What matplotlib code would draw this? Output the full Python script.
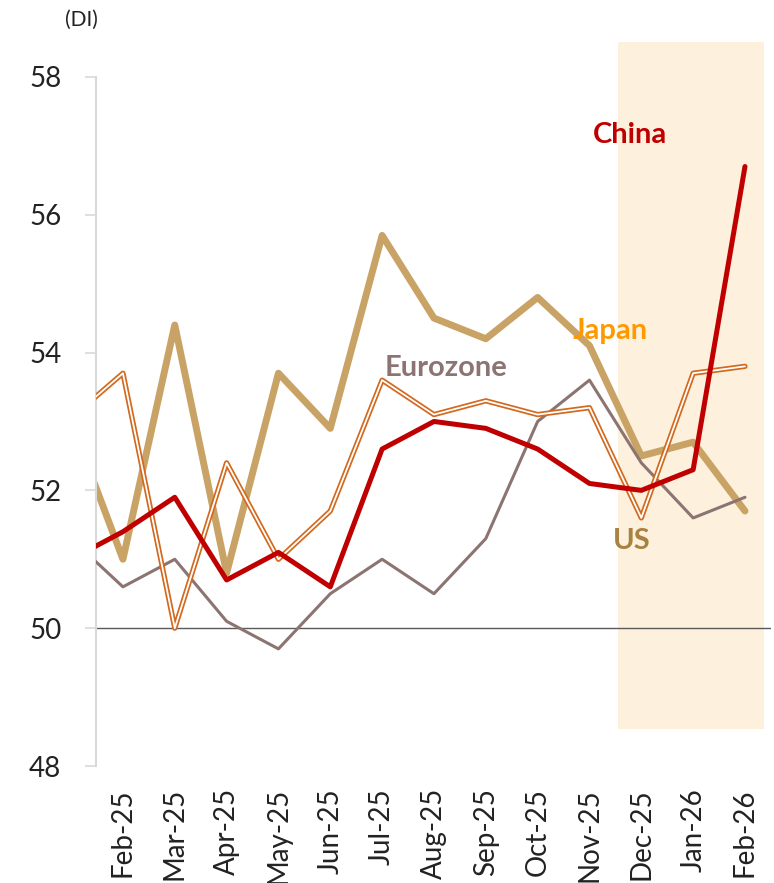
import numpy as np
import matplotlib.pyplot as plt

# =========================
# DATA  (first value = Jan-25, clipped at the left edge)
# =========================

months = ["Jan-25", "Feb-25", "Mar-25", "Apr-25", "May-25", "Jun-25", "Jul-25",
          "Aug-25", "Sep-25", "Oct-25", "Nov-25", "Dec-25", "Jan-26", "Feb-26"]

us = [53.0, 51.0, 54.4, 50.8, 53.7, 52.9, 55.7, 54.5, 54.2, 54.8, 54.1, 52.5, 52.7, 51.7]
japan = [53.05, 53.7, 50.0, 52.4, 51.0, 51.7, 53.6, 53.1, 53.3, 53.1, 53.2, 51.6, 53.7, 53.8]
china = [51.0, 51.4, 51.9, 50.7, 51.1, 50.6, 52.6, 53.0, 52.9, 52.6, 52.1, 52.0, 52.3, 56.7]
eurozone = [51.3, 50.6, 51.0, 50.1, 49.7, 50.5, 51.0, 50.5, 51.3, 53.0, 53.6, 52.4, 51.6, 51.9]

yticks = [48, 50, 52, 54, 56, 58]

# =========================
# STYLE
# =========================

plt.rcParams["font.family"] = ["Lato", "DejaVu Sans"]

C_US = "#c9a365"
C_JAPAN = "#d2691e"
C_CHINA = "#c00000"
C_EURO = "#8b7471"
C_SHADE = "#fdf0dc"

x = np.arange(len(months)) - 1

fig = plt.figure(figsize=(7.74, 8.83), dpi=100)
ax = fig.add_axes([0.124, 0.1325, 0.872, 0.8233])

# shaded window
ax.fill_between([9.55, 12.37], 48.54, 58.5, color=C_SHADE, lw=0, zorder=0)

ax.axhline(50, color="#595959", lw=1.0, zorder=1)

ax.plot(x, us, color=C_US, lw=5.0, solid_capstyle="round", zorder=2)
ax.plot(x, eurozone, color=C_EURO, lw=2.2, solid_capstyle="round", zorder=3)
ax.plot(x, japan, color=C_JAPAN, lw=3.8, solid_capstyle="round", zorder=4)
ax.plot(x, japan, color="white", lw=1.3, solid_capstyle="round", zorder=4)
ax.plot(x, china, color=C_CHINA, lw=3.6, solid_capstyle="round", zorder=5)

# labels
lab = dict(fontsize=21, fontweight="bold", ha="center", va="center", zorder=6)
ax.text(9.78, 57.16, "China", color=C_CHINA, **lab)
ax.text(9.40, 54.31, "Japan", color="#ff9900", **lab)
ax.text(6.23, 53.78, "Eurozone", color=C_EURO, **lab)
ax.text(9.82, 51.27, "US", color="#a8823f", **lab)

ax.set_xlim(-0.52, 12.5)
ax.set_ylim(48, 58.55)

ax.set_xticks(x[1:])
ax.set_xticklabels(months[1:], rotation=90, fontsize=20, color="#222222")
ax.tick_params(axis="x", length=0, pad=16)

ax.set_yticks(yticks)
ax.set_yticklabels([str(v) for v in yticks], fontsize=20, color="#222222")
ax.tick_params(axis="y", length=8, width=1.2, color="#d9d9d9", pad=17)

for s in ["top", "right", "bottom"]:
    ax.spines[s].set_visible(False)
ax.spines["left"].set_color("#d9d9d9")
ax.spines["left"].set_linewidth(1.5)
ax.spines["left"].set_bounds(48, 58)

fig.text(0.105, 0.978, "(DI)", fontsize=15, color="#222222", ha="center", va="center")

fig.savefig("out.png", dpi=100)
